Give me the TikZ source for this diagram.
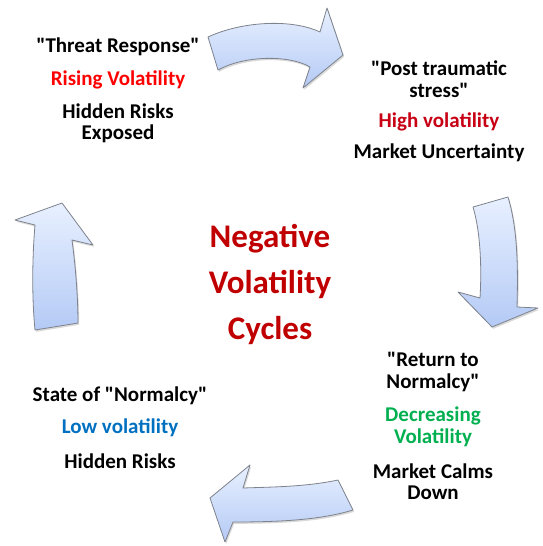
\documentclass[tikz,border=0pt]{standalone}
\usepackage{fontspec}
\setmainfont{Carlito}[Ligatures=TeXOff]
\usetikzlibrary{shadows}
\newcommand{\dq}{{\char34}}
\definecolor{arrowline}{RGB}{125,130,140}
\definecolor{arrowtop}{RGB}{232,240,255}
\definecolor{arrowbot}{RGB}{180,202,245}
\definecolor{redA}{RGB}{255,0,0}
\definecolor{redB}{RGB}{200,0,20}
\definecolor{redC}{RGB}{192,0,0}
\definecolor{greenA}{RGB}{0,176,80}
\definecolor{blueA}{RGB}{0,112,192}
\tikzset{
  cyclearrow/.style={draw=arrowline, line width=0.8pt, line join=round,
    top color=arrowtop, bottom color=arrowbot,
    drop shadow={opacity=0.3, shadow xshift=1.2pt, shadow yshift=-1.8pt}},
  txt/.style={font=\bfseries\fontsize{21}{21.5}\selectfont, align=center, inner sep=0pt},
  bigtxt/.style={font=\bfseries\fontsize{33}{46}\selectfont, align=center, inner sep=0pt, text=redC}
}
\begin{document}
\begin{tikzpicture}[x=1pt,y=-1pt]
\useasboundingbox (0,0) rectangle (542,546);
% arrows
\path[cyclearrow] (208,37) .. controls (240,22) and (290,18) .. (320,32) -- (327,8) -- (343,55) -- (303,88) -- (310,67) .. controls (290,55) and (245,55) .. (218,70) -- cycle;
\path[cyclearrow] (473,207) -- (508,197) .. controls (518,230) and (518,270) .. (517,307) -- (538,308) -- (492,327) -- (458,292) -- (480,298) .. controls (482,265) and (480,230) .. (473,207) -- cycle;
\path[cyclearrow] (338,480) .. controls (305,487) and (270,487) .. (243,488) -- (250,465) -- (210,498) -- (225,542) -- (233,522) .. controls (280,522) and (320,520) .. (353,510) -- cycle;
\path[cyclearrow] (35,330) .. controls (32,300) and (32,260) .. (35,225) -- (15,220) -- (62,203) -- (93,245) -- (72,240) .. controls (76,270) and (78,300) .. (78,323) -- cycle;
% texts
\node[txt] (a1) at (118,47) {\dq Threat Response\dq};
\node[txt, text=redA] (a2) at (118,80) {Rising Volatility};
\node[txt] (a3) at (118,123.5) {Hidden Risks\\Exposed};
\node[txt] (b1) at (439,79) {\dq Post traumatic\\stress\dq};
\node[txt, text=redB] (b2) at (439,122) {High volatility};
\node[txt] (b3) at (439,153) {Market Uncertainty};
\node[txt] (c1) at (433,372) {\dq Return to\\Normalcy\dq};
\node[txt, text=greenA] (c2) at (433,427) {Decreasing\\Volatility};
\node[txt] (c3) at (433,481.5) {Market Calms\\Down};
\node[txt] (d1) at (120,396) {State of \dq Normalcy\dq};
\node[txt, text=blueA] (d2) at (120,428) {Low volatility};
\node[txt] (d3) at (120,461) {Hidden Risks};
\node[bigtxt] (ctr) at (270,284) {Negative\\Volatility\\Cycles};
\end{tikzpicture}
\end{document}
